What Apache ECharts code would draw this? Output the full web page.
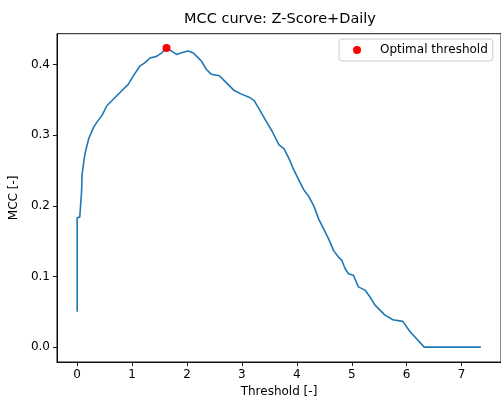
<!DOCTYPE html>
<html>
<head>
<meta charset="utf-8">
<script src="https://cdn.jsdelivr.net/npm/echarts@6/dist/echarts.min.js"></script>
<style>html,body{margin:0;padding:0;background:#fff;}#c{width:501px;height:403px;}</style>
</head>
<body>
<div id="c"></div>
<script>
var thresholds = [0.0, 0.0, 0.047, 0.08, 0.09, 0.13, 0.15, 0.21, 0.30, 0.36, 0.45, 0.54, 0.63, 0.78, 0.93, 1.02, 1.14, 1.23, 1.325, 1.445, 1.535, 1.595, 1.627, 1.69, 1.81, 1.90, 2.02, 2.11, 2.20, 2.26, 2.35, 2.44, 2.59, 2.71, 2.86, 2.98, 3.13, 3.22, 3.31, 3.43, 3.555, 3.675, 3.765, 3.855, 3.945, 4.035, 4.125, 4.215, 4.31, 4.40, 4.49, 4.58, 4.67, 4.76, 4.82, 4.88, 4.94, 5.03, 5.12, 5.24, 5.33, 5.42, 5.51, 5.60, 5.75, 5.93, 6.055, 6.32, 7.35];
var mccValues = [0.05, 0.183, 0.184, 0.22, 0.245, 0.268, 0.2765, 0.295, 0.3115, 0.3185, 0.3277, 0.3417, 0.3487, 0.3604, 0.372, 0.3836, 0.3977, 0.4023, 0.4093, 0.4116, 0.4163, 0.421, 0.4235, 0.4205, 0.4144, 0.4168, 0.4191, 0.4168, 0.4098, 0.4051, 0.3934, 0.3864, 0.3842, 0.3748, 0.3632, 0.3585, 0.3538, 0.3492, 0.3375, 0.3213, 0.3049, 0.2863, 0.2811, 0.2671, 0.2508, 0.2368, 0.2228, 0.2136, 0.1996, 0.1808, 0.1669, 0.1529, 0.1366, 0.1273, 0.1227, 0.1109, 0.1039, 0.1017, 0.0853, 0.0807, 0.0713, 0.0597, 0.0527, 0.0457, 0.0387, 0.0364, 0.0224, 0.0, 0.0];
var optimalThreshold = [1.627];
var optimalMcc = [0.4235];
var xTicks = [0, 1, 2, 3, 4, 5, 6, 7];
var yTicks = [0.0, 0.1, 0.2, 0.3, 0.4];
var titleText = 'MCC curve: Z-Score+Daily';
var xName = 'Threshold [-]';
var yName = 'MCC [-]';
var legendName = 'Optimal threshold';

var lineData = thresholds.map(function (t, i) { return [t, mccValues[i]]; });
var pointData = optimalThreshold.map(function (t, i) { return [t, optimalMcc[i]]; });
var font = 'DejaVu Sans';
var chart = echarts.init(document.getElementById('c'), null, {renderer: 'canvas'});
chart.setOption({
  animation: false,
  backgroundColor: '#fff',
  textStyle: {fontFamily: font},
  graphic: [{
    type: 'text', x: 280, y: 19,
    style: {text: titleText, font: '14.5px "DejaVu Sans"', fill: '#000', align: 'center', verticalAlign: 'middle'}
  }],
  grid: {left: 56.5, top: 33.7, width: 447.2, height: 332, show: true, borderColor: '#000', borderWidth: 0.9, backgroundColor: 'transparent'},
  legend: {
    data: [legendName], left: 339, top: 39,
    padding: [5, 5, 5, 14],
    borderColor: '#cccccc', borderWidth: 1, borderRadius: 3,
    backgroundColor: 'rgba(255,255,255,0.8)',
    itemWidth: 8, itemHeight: 8, icon: 'circle',
    textStyle: {fontFamily: font, fontSize: 12, color: '#000', padding: [0, 0, 0, 14]}
  },
  xAxis: {
    type: 'value', min: -0.3675, max: 7.7175,
    name: xName, nameLocation: 'middle', nameGap: 24,
    nameTextStyle: {fontFamily: font, fontSize: 12, color: '#000'},
    axisLine: {show: true, onZero: false, lineStyle: {color: '#000', width: 0.9}},
    axisTick: {show: true, length: 4, lineStyle: {color: '#000', width: 0.9}, customValues: xTicks},
    axisLabel: {show: true, margin: 7, fontFamily: font, fontSize: 12, color: '#000', customValues: xTicks, formatter: function (v) { return String(Math.round(v)); }},
    splitLine: {show: false}
  },
  yAxis: {
    type: 'value', min: -0.0211, max: 0.4437,
    name: yName, nameLocation: 'middle', nameGap: 33,
    nameTextStyle: {fontFamily: font, fontSize: 12, color: '#000'},
    axisLine: {show: true, onZero: false, lineStyle: {color: '#000', width: 0.9}},
    axisTick: {show: true, length: 4, lineStyle: {color: '#000', width: 0.9}, customValues: yTicks},
    axisLabel: {show: true, margin: 7, fontFamily: font, fontSize: 12, color: '#000', customValues: yTicks, formatter: function (v) { return v.toFixed(1); }},
    splitLine: {show: false}
  },
  series: [{
    type: 'line', name: 'MCC', data: lineData, showSymbol: false, symbol: 'none',
    lineStyle: {color: '#1f77b4', width: 1.6}, itemStyle: {color: '#1f77b4'}, z: 2
  }, {
    type: 'scatter', name: legendName, data: pointData, symbol: 'circle', symbolSize: 8,
    itemStyle: {color: '#ff0000', opacity: 1}, z: 3
  }]
});
</script>
</body>
</html>
